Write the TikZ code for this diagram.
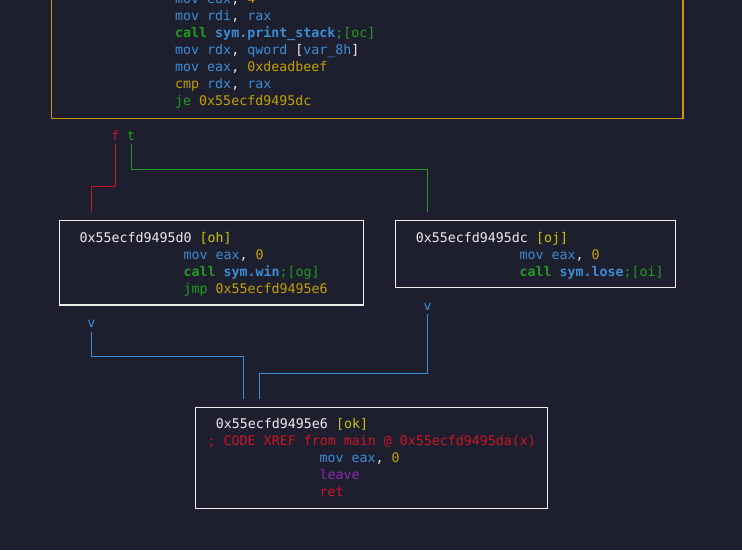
\documentclass[tikz,border=0pt]{standalone}
\usepackage{fontspec}
\setmonofont{DejaVu Sans Mono}
\usepackage{xcolor}
\usepackage{tikz}
\usetikzlibrary{positioning}

\definecolor{bgdark}{RGB}{30,31,46}
\definecolor{asmwhite}{RGB}{236,236,236}
\definecolor{asmblue}{RGB}{58,142,214}
\definecolor{asmgreen}{RGB}{30,158,30}
\definecolor{asmgold}{RGB}{196,160,0}
\definecolor{asmtag}{RGB}{200,196,0}
\definecolor{asmred}{RGB}{204,20,40}
\definecolor{asmpurple}{RGB}{140,40,170}
\definecolor{mainframe}{RGB}{204,150,0}

\newcommand{\opb}[1]{\textcolor{asmblue}{#1}}
\newcommand{\opg}[1]{\textcolor{asmgreen}{#1}}
\newcommand{\opy}[1]{\textcolor{asmgold}{#1}}
\newcommand{\opw}[1]{\textcolor{asmwhite}{#1}}
\newcommand{\opr}[1]{\textcolor{asmred}{#1}}
\newcommand{\opp}[1]{\textcolor{asmpurple}{#1}}
\newcommand{\optag}[1]{\textcolor{asmtag}{#1}}

\tikzset{
  asm/.style={anchor=base west, inner sep=0pt, text=asmwhite},
  lbl/.style={anchor=base, inner sep=0pt},
  blk/.style={draw=asmwhite, line width=1.2pt, rectangle, inner sep=0pt},
  fedge/.style={draw=asmred, line width=1pt},
  tedge/.style={draw=asmgreen, line width=1pt},
  vedge/.style={draw=asmblue, line width=1pt}
}

\begin{document}
\begin{tikzpicture}[x=1pt, y=-1pt, font=\ttfamily\fontsize{13.3}{17}\selectfont]
            \useasboundingbox[fill=bgdark] (0,0) rectangle (742,550);

            % blocks
            \draw (367.25,44.25) node[blk, draw=mainframe, minimum width=631.5, minimum height=148.5] (main) {};
            \draw (211.5,262.75) node[blk, minimum width=304, minimum height=84.5]   (oh) {};
            \draw (535.5,254.1) node[blk, minimum width=280, minimum height=67.2]    (oj) {};
            \draw (371.5,458) node[blk, minimum width=351.6, minimum height=101.4]   (ok) {};

            % main block
            \draw (175,3.5) node[asm]   (m1) {\opb{mov edx}\opw{,} \opy{4}};
            \draw (175,20.5) node[asm]  (m2) {\opb{mov rdi}\opw{,} \opb{rax}};
            \draw (175,37.5) node[asm]  (m3) {\opg{\bfseries call} \opb{\bfseries sym.print\_stack}\opg{;[oc]}};
            \draw (175,54.5) node[asm]  (m4) {\opb{mov rdx}\opw{,} \opb{qword} \opw{[}\opb{var\_8h}\opw{]}};
            \draw (175,71.5) node[asm]  (m5) {\opb{mov eax}\opw{,} \opy{0xdeadbeef}};
            \draw (175,88.5) node[asm]  (m6) {\opy{cmp} \opb{rdx}\opw{,} \opb{rax}};
            \draw (175,105.5) node[asm] (m7) {\opg{je} \opy{0x55ecfd9495dc}};

            % block oh
            \draw (79.3,242) node[asm]  (oh1) {0x55ecfd9495d0 \optag{[oh]}};
            \draw (183.3,259) node[asm] (oh2) {\opb{mov eax}\opw{,} \opy{0}};
            \draw (183.3,276) node[asm] (oh3) {\opg{\bfseries call} \opb{\bfseries sym.win}\opg{;[og]}};
            \draw (183.3,293) node[asm] (oh4) {\opg{jmp} \opy{0x55ecfd9495e6}};

            % block oj
            \draw (415.7,242) node[asm] (oj1) {0x55ecfd9495dc \optag{[oj]}};
            \draw (519.3,259) node[asm] (oj2) {\opb{mov eax}\opw{,} \opy{0}};
            \draw (519.3,276) node[asm] (oj3) {\opg{\bfseries call} \opb{\bfseries sym.lose}\opg{;[oi]}};

            % block ok
            \draw (215.7,428) node[asm] (ok1) {0x55ecfd9495e6 \optag{[ok]}};
            \draw (207.5,445) node[asm] (ok2) {\opr{; CODE XREF from main @ 0x55ecfd9495da(x)}};
            \draw (319.3,462) node[asm] (ok3) {\opb{mov eax}\opw{,} \opy{0}};
            \draw (319.3,479) node[asm] (ok4) {\opp{leave}};
            \draw (319.3,496) node[asm] (ok5) {\opr{ret}};

            % edge labels
            \draw (115.5,140) node[lbl, text=asmred]   (f) {f};
            \draw (131,140) node[lbl, text=asmgreen]   (t) {t};
            \draw (91.5,327) node[lbl, text=asmblue]   (v1) {v};
            \draw (427.5,310) node[lbl, text=asmblue]  (v2) {v};

            \coordinate (fbend) at (91.5,186.5);
            \coordinate (fend) at (91.5,211.5);
            \coordinate (tbend) at (427.5,169.5);
            \coordinate (tend) at (427.5,211.5);
            \coordinate (v1bend) at (243.5,356.5);
            \coordinate (v1end) at (243.5,398.5);
            \coordinate (v2bend) at (259.5,373.5);
            \coordinate (v2end) at (259.5,398.5);

            \draw[fedge] ([yshift=-4pt]f.base) |- (fbend) -- (fend);
            \draw[tedge] ([yshift=-4pt]t.base) |- (tbend) -- (tend);
            \draw[vedge] ([yshift=-4.5pt]v1.base) |- (v1bend) -- (v1end);
            \draw[vedge] ([yshift=-4pt]v2.base) |- (v2bend) -- (v2end);

\end{tikzpicture}
\end{document}
